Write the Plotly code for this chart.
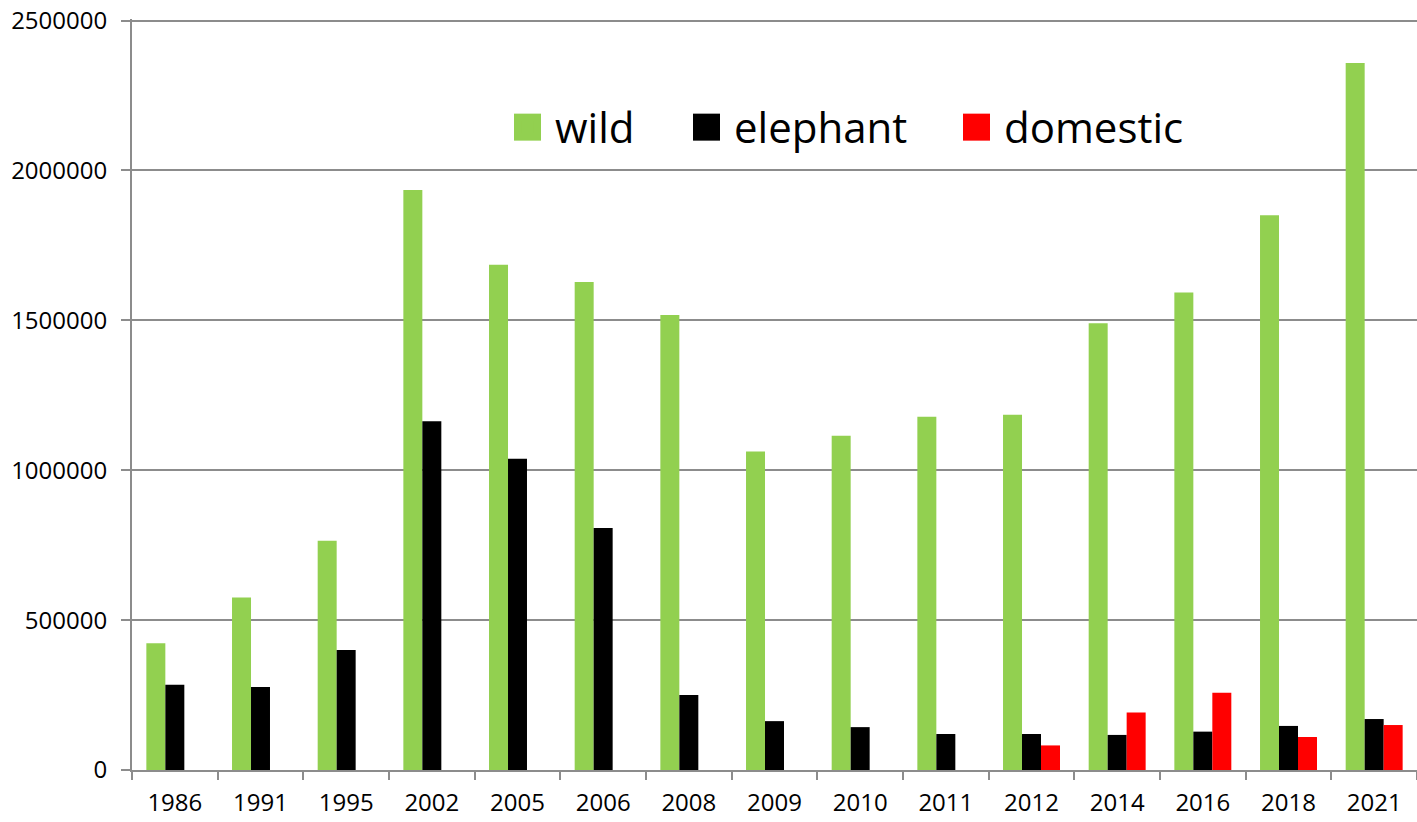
import plotly.graph_objects as go

years = ["1986", "1991", "1995", "2002", "2005", "2006", "2008", "2009", "2010",
         "2011", "2012", "2014", "2016", "2018", "2021"]
wild = [423000, 575000, 765000, 1935000, 1685000, 1628000, 1518000, 1062000, 1115000,
        1178000, 1185000, 1490000, 1593000, 1850000, 2358000]
elephant = [284000, 277000, 400000, 1163000, 1038000, 807000, 250000, 163000, 143000,
            120000, 120000, 117000, 128000, 147000, 170000]
domestic = [None, None, None, None, None, None, None, None, None,
            None, 82000, 192000, 258000, 110000, 150000]
y_ticks = [0, 500000, 1000000, 1500000, 2000000, 2500000]

series = [("wild", wild, "#92d050"), ("elephant", elephant, "#000000"), ("domestic", domestic, "#ff0000")]
legend_ids = ["legend", "legend2", "legend3"]
legend_x = [0.2864, 0.4257, 0.6358]

PW, PH = 1285, 751
LY = 0.856

fig = go.Figure()
for (name, vals, col), lid in zip(series, legend_ids):
    fig.add_trace(go.Bar(x=years, y=vals, name=name, legend=lid,
                         marker=dict(color=col, line=dict(width=0))))

legend_common = dict(orientation="h", y=LY, xanchor="left", yanchor="middle",
                     font=dict(size=42), bgcolor="rgba(0,0,0,0)", itemwidth=45)

# enlarged legend swatches (Excel style square keys) behind the native legend symbols
shapes = []
for (name, vals, col), lx in zip(series, legend_x):
    cx = lx + 27.5 / PW
    shapes.append(dict(type="rect", xref="paper", yref="paper",
                       x0=cx - 13.5 / PW, x1=cx + 13.5 / PW,
                       y0=LY - 13.5 / PH, y1=LY + 13.5 / PH,
                       fillcolor=col, line=dict(width=0), layer="above"))

fig.update_layout(
    width=1417, height=822,
    margin=dict(l=132, r=0, t=19, b=52, autoexpand=False),
    paper_bgcolor="white", plot_bgcolor="white",
    barmode="group", bargap=0.335, bargroupgap=0,
    font=dict(family="Open Sans, Liberation Sans, sans-serif", color="black"),
    legend=dict(x=legend_x[0], **legend_common),
    legend2=dict(x=legend_x[1], **legend_common),
    legend3=dict(x=legend_x[2], **legend_common),
    shapes=shapes,
    showlegend=True,
)
fig.update_xaxes(type="category", tickson="boundaries", ticks="outside", ticklen=8,
                 tickcolor="#8c8c8c", tickwidth=2, showline=True, linecolor="#8c8c8c", linewidth=2,
                 tickfont=dict(size=24), showgrid=False, automargin=False, ticklabelstandoff=10)
fig.update_yaxes(range=[0, 2505000], tickvals=y_ticks,
                 tickformat="d", ticks="outside", ticklen=9, tickcolor="#8c8c8c", tickwidth=2,
                 showline=True, linecolor="#8c8c8c", linewidth=2,
                 showgrid=True, gridcolor="#8c8c8c", gridwidth=2, zeroline=False,
                 tickfont=dict(size=24), ticklabelstandoff=9, automargin=False,
                 ticklabeloverflow="allow")

fig.write_html("out.html", config={"displayModeBar": False},
               post_script="document.body.style.margin='0';document.body.style.overflow='hidden';")
